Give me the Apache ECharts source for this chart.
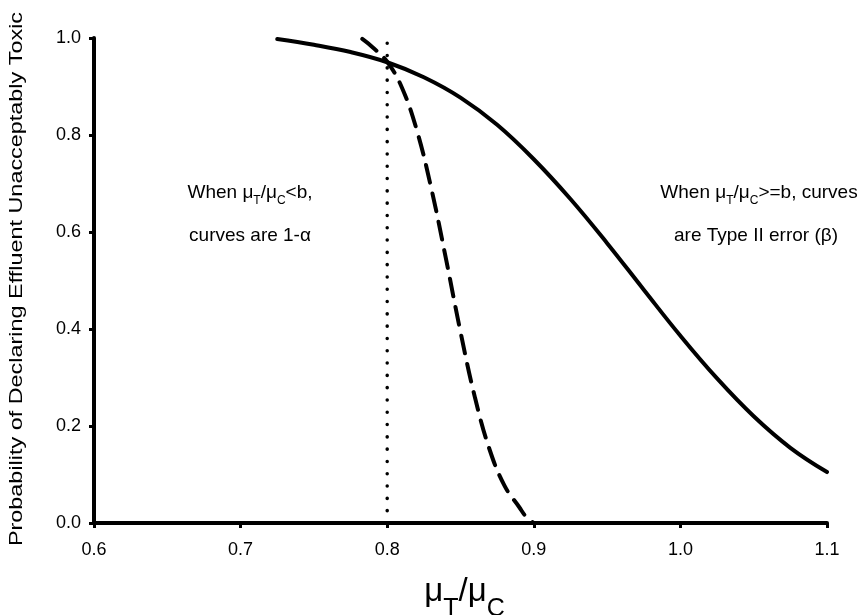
<!DOCTYPE html>
<html>
<head>
<meta charset="utf-8">
<script src="https://cdn.jsdelivr.net/npm/echarts@6/dist/echarts.min.js"></script>
<style>
  html, body { margin: 0; padding: 0; background: #fff; }
  #chart { width: 863px; height: 615px; }
</style>
</head>
<body>
<div id="chart"></div>
<script>
// Ratio of treatment mean to control mean (x) and probability values (y)
const solidRatio = [0.725, 0.75, 0.775, 0.8, 0.825, 0.85, 0.875, 0.9, 0.925, 0.95, 0.975, 1.0, 1.025, 1.05, 1.075, 1.1];
const solidProb  = [0.998, 0.986, 0.971, 0.950, 0.919, 0.877, 0.821, 0.750, 0.668, 0.577, 0.481, 0.386, 0.298, 0.220, 0.155, 0.105];

const dashedRatio = [0.783, 0.79, 0.8, 0.81, 0.82, 0.83, 0.84, 0.85, 0.86, 0.87, 0.88, 0.89, 0.895, 0.9];
const dashedProb  = [0.998, 0.981, 0.951, 0.898, 0.812, 0.691, 0.546, 0.394, 0.257, 0.150, 0.077, 0.033, 0.012, 0.0];

// Vertical reference line at b = 0.8
const bRatio = [0.8, 0.8];
const bProb  = [0.0, 1.0];

const xTicks = ['0.6', '0.7', '0.8', '0.9', '1.0', '1.1'];
const yTicks = ['0.0', '0.2', '0.4', '0.6', '0.8', '1.0'];

const yTitle = 'Probability of Declaring Effluent Unacceptably Toxic';
const leftNote  = ['{m|When μ}{s|T}{m|/μ}{s|C}{m|<b,}', '{m|curves are 1-α}'];
const rightNote = ['{m|When μ}{s|T}{m|/μ}{s|C}{m|>=b, curves}', '{m|are Type II error (β)}'];

const pair = (xs, ys) => xs.map((x, i) => [x, ys[i]]);

const FONT = '"Liberation Sans", Arial, sans-serif';

const noteRich = {
  m: { fontFamily: FONT, fontSize: 19, color: '#000', lineHeight: 28 },
  s: { fontFamily: FONT, fontSize: 12, color: '#000', lineHeight: 14, verticalAlign: 'bottom' }
};

function noteText(text, x, y) {
  return {
    type: 'text', x: x, y: y, z: 10,
    style: { text: text, align: 'center', verticalAlign: 'middle', rich: noteRich }
  };
}

const chart = echarts.init(document.getElementById('chart'));
chart.setOption({
  animation: false,
  backgroundColor: '#fff',
  grid: {
    left: 94, right: 36, top: 38, bottom: 92,
    containLabel: false,
    outerBoundsMode: 'none'
  },
  xAxis: {
    type: 'value',
    min: 0.6, max: 1.1, interval: 0.1,
    splitLine: { show: false },
    axisLine: { lineStyle: { color: '#000', width: 4 } },
    axisTick: { show: true, length: 5, lineStyle: { color: '#000', width: 3 } },
    axisLabel: {
      color: '#000', fontFamily: FONT, fontSize: 18, margin: 18,
      formatter: (v) => xTicks[Math.round((v - 0.6) * 10)]
    },
    name: '{m|μ}{s|T}{m|/μ}{s|C}',
    nameLocation: 'middle',
    nameGap: 39,
    nameTextStyle: {
      padding: [0, 0, 0, 8],
      rich: {
        m: { fontFamily: FONT, fontSize: 33, color: '#000', lineHeight: 60 },
        s: { fontFamily: FONT, fontSize: 25, color: '#000', lineHeight: 24, verticalAlign: 'bottom' }
      }
    }
  },
  yAxis: {
    type: 'value',
    min: 0, max: 1, interval: 0.2,
    splitLine: { show: false },
    axisLine: { show: true, lineStyle: { color: '#000', width: 4 } },
    axisTick: { show: true, length: 5, lineStyle: { color: '#000', width: 3 } },
    axisLabel: {
      color: '#000', fontFamily: FONT, fontSize: 18, margin: 13,
      formatter: (v) => yTicks[Math.round(v * 5)]
    }
  },
  series: [
    {
      type: 'line',
      data: pair(solidRatio, solidProb),
      smooth: 0.4,
      showSymbol: false,
      lineStyle: { color: '#000', width: 4, cap: 'round' },
      z: 3
    },
    {
      type: 'line',
      data: pair(dashedRatio, dashedProb),
      smooth: 0.4,
      showSymbol: false,
      lineStyle: { color: '#000', width: 4, type: [18, 11], cap: 'round' },
      z: 3
    },
    {
      type: 'line',
      data: pair(bRatio, bProb),
      showSymbol: false,
      lineStyle: { color: '#000', width: 3.5, type: [0.1, 12.2], cap: 'round' },
      z: 2
    }
  ],
  graphic: [
    {
      type: 'text',
      x: 17, y: 279,
      rotation: Math.PI / 2,
      scaleX: 1.3,
      style: {
        text: yTitle, fontFamily: FONT, fontSize: 18, fill: '#000',
        align: 'center', verticalAlign: 'middle'
      }
    },
    noteText(leftNote[0], 250, 193),
    noteText(leftNote[1], 250, 236),
    noteText(rightNote[0], 759, 193),
    noteText(rightNote[1], 756, 236)
  ]
});
</script>
</body>
</html>
